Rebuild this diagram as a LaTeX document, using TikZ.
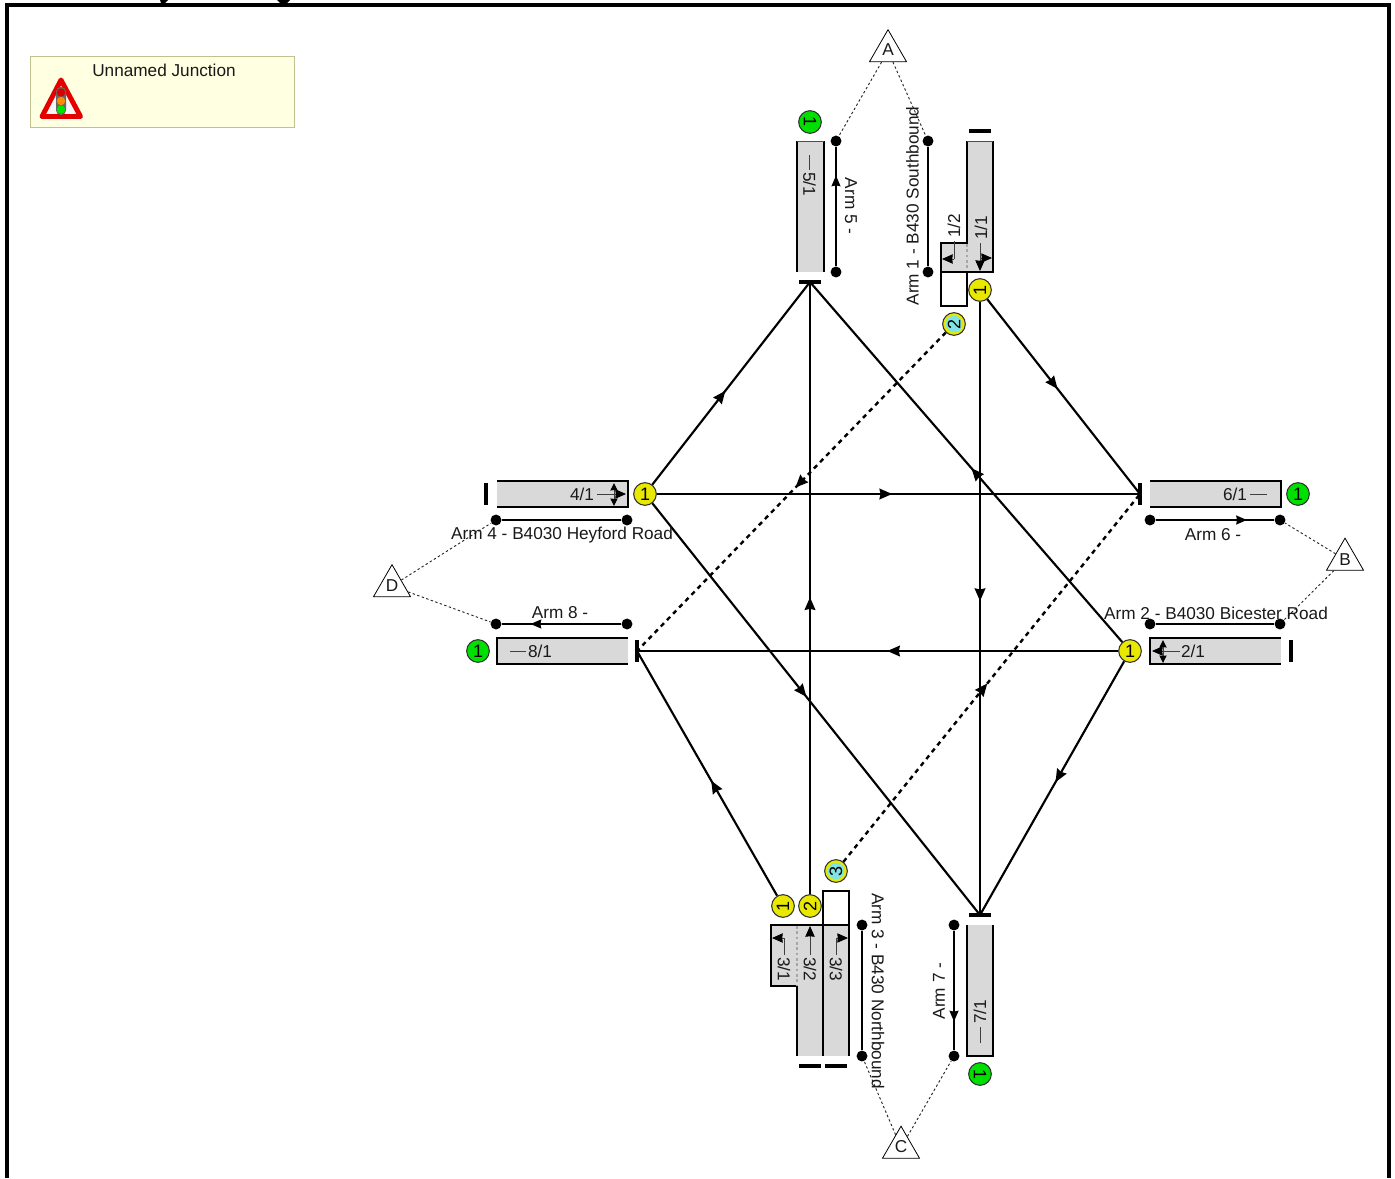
\documentclass[tikz,border=0pt]{standalone}
\usepackage{fontspec}
\setmainfont{Liberation Sans}
\usetikzlibrary{arrows.meta,decorations.markings,shapes.geometric}
\definecolor{lanegrey}{HTML}{D9D9D9}
\definecolor{sigyellow}{HTML}{E8E800}
\definecolor{siggreen}{HTML}{00E000}
\definecolor{sigcyan}{HTML}{80E4E4}
\definecolor{boxfill}{HTML}{FFFFE1}
\definecolor{boxline}{HTML}{C0C090}
\tikzset{
  x=0.75pt,y=-0.75pt,
  every node/.style={font=\fontsize{12.9}{15}\selectfont,text=black!90,inner sep=0pt},
  sig/.style={circle,draw=black!80,line width=0.8pt,minimum size=17pt,fill=#1,text=black,font=\fontsize{13.5}{15}\selectfont},
  sigc/.style={sig=sigyellow,path picture={\fill[sigcyan] (path picture bounding box.center) circle[radius=6.2pt];}},
  stopbar/.style={fill=black,draw=none,inner sep=0pt},
  flow/.style={line width=1.6pt,draw=black,postaction={decorate},
    decoration={markings,mark=at position #1 with {\arrow[solid]{Stealth[inset=0.8pt,length=9.5pt,width=8pt]}}}},
  dflow/.style={flow=#1,dash pattern=on 3.4pt off 3.2pt,line width=1.8pt},
  lane/.style={fill=lanegrey,draw=none},
  edge/.style={line width=1.5pt,draw=black},
  thinedge/.style={line width=0.6pt,draw=black!70},
  dot/.style={circle,fill=black,minimum size=8.2pt,inner sep=0pt},
  bar/.style={line width=1.6pt,draw=black},
  barflow/.style={bar,postaction={decorate},
    decoration={markings,mark=at position #1 with {\arrow{Stealth[inset=0.5pt,length=8pt,width=6.5pt]}}}},
  tri/.style={regular polygon,regular polygon sides=3,draw=black,line width=0.6pt,fill=white,minimum size=32pt,inner sep=0pt},
  lead/.style={line width=0.7pt,draw=black!85,dash pattern=on 1.8pt off 1.8pt},
  lanemark/.style={line width=0.7pt,draw=black!75,-{Stealth[inset=0.3pt,length=8pt,width=7pt,black]}},
  sidemark/.style={line width=0.7pt,draw=black!75,-{Stealth[inset=0.3pt,length=5.6pt,width=5.4pt,black]}},
  lanetick/.style={line width=0.7pt,draw=black!75},
}
\begin{document}
\begin{tikzpicture}
\useasboundingbox (0,0) rectangle (1395,1178);
% frame
\draw[line width=3.3pt,line cap=butt] (7,1178) -- (7,5) -- (1389,5) -- (1389,1178);
\fill[black] (160,0) -- (168,0) -- (165,3) -- (161,3) -- cycle;
\fill[black] (277,0) -- (290,0) -- (287,3) -- (280,3) -- cycle;
% info box
\node[draw=boxline,fill=boxfill,line width=0.7pt,minimum width=198pt,minimum height=53.5pt] (info) at (162.5,92) {};
\node (title) at (164,70) {Unnamed Junction};
\fill[white!96!black] (61,80) -- (42,116.5) -- (80.5,116.5) -- cycle;
\draw[red!90!black,line width=3.7pt,line join=round] (61,80) -- (42,116.5) -- (80.5,116.5) -- cycle;
\fill[black!60,rounded corners=3.5pt] (56,87) rectangle (66,115);
\fill[red!85!black] (61,92.5) circle[radius=4.2];
\fill[orange!90!yellow] (61,101) circle[radius=4.2];
\fill[green!90!black] (61,109.5) circle[radius=4.2];

% lanes: arm 5
\fill[lane] (797,141) rectangle (824,272);
\draw[edge] (797,272) -- (797,141);
\draw[edge] (824,272) -- (824,141);
\draw[thinedge] (797,141) -- (824,141);
\node[rotate=-90] (l51) at (809.5,184) {5/1};
\draw[lanetick] (809.5,155) -- (809.5,170);
% arm 1
\fill[lane] (967,141) rectangle (993,272);
\fill[lane] (941,243) rectangle (967,272);
\draw[edge] (967,141) -- (967,243) -- (941,243) -- (941,272) -- (993,272) -- (993,141);
\draw[thinedge] (967,141) -- (993,141);
\draw[line width=0.8pt,draw=black!35,dash pattern=on 2pt off 2pt] (967,244) -- (967,271);
\draw[line width=1.2pt,draw=black] (941,272) rectangle (967,306);
\node[rotate=90,anchor=west] (l12) at (954,238) {1/2};
\node[rotate=90,anchor=west] (l11) at (981,240) {1/1};
\draw[lanetick] (954,241) -- (954,259);
\draw[lanemark] (954,259) -- (942,259);
\draw[lanemark] (980,243) -- (980,271);
\draw[lanemark] (980,258) -- (992,258);
% arm 4
\fill[lane] (497,481) rectangle (628,507);
\draw[edge] (497,481) -- (628,481) -- (628,507) -- (497,507);
\node (l41) at (582,494) {4/1};
\draw[lanemark] (597,494) -- (626,494);
\draw[sidemark] (614,494) -- (614,483);
\draw[sidemark] (614,494) -- (614,506);
% arm 6
\fill[lane] (1150,481) rectangle (1281,507);
\draw[edge] (1150,481) -- (1281,481) -- (1281,507) -- (1150,507);
\node (l61) at (1235,494) {6/1};
\draw[lanetick] (1250,494) -- (1267,494);
% arm 8
\fill[lane] (497,638) rectangle (628,664);
\draw[edge] (628,638) -- (497,638) -- (497,664) -- (628,664);
\node (l81) at (540,651) {8/1};
\draw[lanetick] (510,651) -- (526,651);
% arm 2
\fill[lane] (1150,638) rectangle (1281,664);
\draw[edge] (1281,638) -- (1150,638) -- (1150,664) -- (1281,664);
\node (l21) at (1193,651) {2/1};
\draw[lanemark] (1180,651) -- (1152,651);
\draw[sidemark] (1163,651) -- (1163,640);
\draw[sidemark] (1163,651) -- (1163,663);
% arm 3
\fill[lane] (797,925) rectangle (849,1056);
\fill[lane] (771,925) rectangle (797,986);
\draw[edge] (797,1056) -- (797,986) -- (771,986) -- (771,925) -- (849,925) -- (849,1056);
\draw[edge] (823,925) -- (823,1056);
\draw[line width=0.8pt,draw=black!35,dash pattern=on 2pt off 2pt] (797,926) -- (797,985);
\draw[line width=1pt,draw=black] (823,891) rectangle (849,925);
\node[rotate=-90,anchor=west] (l31) at (784,957) {3/1};
\node[rotate=-90,anchor=west] (l32) at (810,957) {3/2};
\node[rotate=-90,anchor=west] (l33) at (836,957) {3/3};
\draw[lanetick] (784,955) -- (784,938);
\draw[lanemark] (784,938) -- (772,938);
\draw[lanemark] (810,955) -- (810,926);
\draw[lanetick] (836,955) -- (836,938);
\draw[lanemark] (836,938) -- (848,938);
% arm 7
\fill[lane] (967,925) rectangle (993,1056);
\draw[edge] (967,925) -- (967,1056) -- (993,1056) -- (993,925);
\node[rotate=90] (l71) at (980,1012) {7/1};
\draw[lanetick] (980,1027) -- (980,1043);

% stop lines
\node[stopbar,minimum width=16.5pt,minimum height=3.6pt] (stopf) at (980,131) {};
\node[stopbar,minimum width=16.5pt,minimum height=3.6pt] (e5) at (810,282) {};
\node[stopbar,minimum width=3.6pt,minimum height=16.5pt] (e6) at (1140,494) {};
\node[stopbar,minimum width=3.6pt,minimum height=16.5pt] (e8) at (637,651) {};
\node[stopbar,minimum width=16.5pt,minimum height=3.6pt] (e7) at (980,915) {};
\node[stopbar,minimum width=3.6pt,minimum height=16.5pt] (s4b) at (486,494) {};
\node[stopbar,minimum width=3.6pt,minimum height=16.5pt] (s2b) at (1291,651) {};
\node[stopbar,minimum width=16.5pt,minimum height=3.6pt] (s3a) at (810,1066) {};
\node[stopbar,minimum width=16.5pt,minimum height=3.6pt] (s3b) at (836,1066) {};

% signals
\node[sig=sigyellow,rotate=90] (s11) at (980,290) {1};
\node[sigc,rotate=90] (s12) at (954,324) {2};
\node[sig=sigyellow] (s41) at (645,494) {1};
\node[sig=sigyellow] (s21) at (1130,651) {1};
\node[sig=sigyellow,rotate=90] (s31) at (783,906) {1};
\node[sig=sigyellow,rotate=90] (s32) at (810,906) {2};
\node[sigc,rotate=90] (s33) at (836,871) {3};
\node[sig=siggreen,rotate=-90] (g5) at (810,122) {1};
\node[sig=siggreen] (g6) at (1298,494) {1};
\node[sig=siggreen] (g8) at (478,651) {1};
\node[sig=siggreen,rotate=-90] (g7) at (980,1074) {1};

% flows
\draw[flow=0.463] (s41) -- (e5.center);
\draw[flow=0.487] (s41) -- (e6.center);
\draw[flow=0.47] (s41) -- (e7.center);
\draw[flow=0.483] (s21) -- (e5.center);
\draw[flow=0.48] (s21) -- (e8.center);
\draw[flow=0.476] (s21) -- (e7.center);
\draw[flow=0.47] (s31) -- (e8.center);
\draw[flow=0.485] (s32) -- (e5.center);
\draw[flow=0.46] (s11) -- (e6.center);
\draw[flow=0.488] (s11) -- (e7.center);
\draw[dflow=0.487] (s12) -- (e8.center);
\draw[dflow=0.485] (s33) -- (e6.center);

% arm bars
\node[dot] (a5t) at (836,141) {};
\node[dot] (a5b) at (836,272) {};
\draw[barflow=0.76] (a5b) -- (a5t);
\node[dot] (a1t) at (928,141) {};
\node[dot] (a1b) at (928,272) {};
\draw[bar] (a1b) -- (a1t);
\node[dot] (a4l) at (496,520) {};
\node[dot] (a4r) at (627,520) {};
\draw[bar] (a4l) -- (a4r);
\node[dot] (a6l) at (1150,520) {};
\node[dot] (a6r) at (1280,520) {};
\draw[barflow=0.77] (a6l) -- (a6r);
\node[dot] (a8l) at (496,624) {};
\node[dot] (a8r) at (627,624) {};
\draw[barflow=0.76] (a8r) -- (a8l);
\node[dot] (a2l) at (1150,624) {};
\node[dot] (a2r) at (1280,624) {};
\draw[bar] (a2l) -- (a2r);
\node[dot] (a3t) at (862,925) {};
\node[dot] (a3b) at (862,1056) {};
\draw[bar] (a3t) -- (a3b);
\node[dot] (a7t) at (954,925) {};
\node[dot] (a7b) at (954,1056) {};
\draw[barflow=0.76] (a7t) -- (a7b);

% triangles
\node[tri] (ta) at (888,51) {};
\node (tal) at (888,50) {A};
\node[tri] (tb) at (1345,559.5) {};
\node (tbl) at (1345,560) {B};
\node[tri] (tc) at (901,1147.5) {};
\node (tcl) at (901,1147) {C};
\node[tri] (td) at (392,586) {};
\node (tdl) at (392,586) {D};
\draw[lead] (ta) -- (a5t);
\draw[lead] (ta) -- (a1t);
\draw[lead] (tb) -- (a6r);
\draw[lead] (tb) -- (a2r);
\draw[lead] (tc) -- (a3b);
\draw[lead] (tc) -- (a7b);
\draw[lead] (td) -- (a4l);
\draw[lead] (td) -- (a8l);

% arm labels
\node[rotate=-90] (n5) at (851,206) {Arm 5 -};
\node[rotate=90] (n1) at (912.5,206) {Arm 1 - B430 Southbound};
\node (n4) at (562,535.5) {Arm 4 - B4030 Heyford Road};
\node (n6) at (1213,535) {Arm 6 -};
\node (n8) at (560,613) {Arm 8 -};
\node (n2) at (1216,613) {Arm 2 - B4030 Bicester Road};
\node[rotate=-90] (n3) at (878,991) {Arm 3 - B430 Northbound};
\node[rotate=90] (n7) at (939,991) {Arm 7 -};
\end{tikzpicture}
\end{document}
